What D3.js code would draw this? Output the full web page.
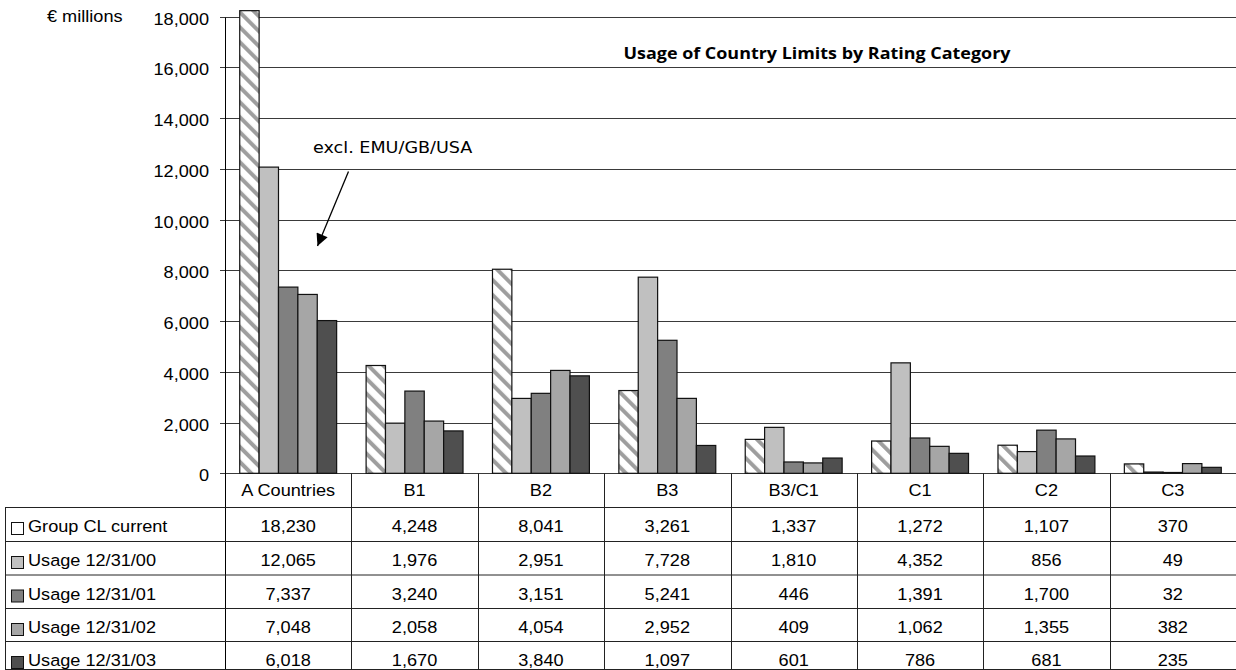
<!DOCTYPE html>
<html>
<head>
<meta charset="utf-8">
<script src="https://cdn.jsdelivr.net/npm/d3@7/dist/d3.min.js"></script>
<style>
  html, body { margin: 0; padding: 0; background: #fff; }
  svg { display: block; }
</style>
</head>
<body>
<svg id="chart" width="1236" height="670"></svg>
<script>
// Rating categories and the series shown per category (EUR millions)
const categories = ["A Countries", "B1", "B2", "B3", "B3/C1", "C1", "C2", "C3"];
const seriesNames = ["Group CL current", "Usage 12/31/00", "Usage 12/31/01", "Usage 12/31/02", "Usage 12/31/03"];
const groupCL  = [18230, 4248, 8041, 3261, 1337, 1272, 1107, 370];
const usage00  = [12065, 1976, 2951, 7728, 1810, 4352, 856, 49];
const usage01  = [7337, 3240, 3151, 5241, 446, 1391, 1700, 32];
const usage02  = [7048, 2058, 4054, 2952, 409, 1062, 1355, 382];
const usage03  = [6018, 1670, 3840, 1097, 601, 786, 681, 235];
const yTicks   = [0, 2000, 4000, 6000, 8000, 10000, 12000, 14000, 16000, 18000];

const seriesValues = [groupCL, usage00, usage01, usage02, usage03];
const seriesFills = ["url(#hatch)", "#c0c0c0", "#808080", "#a6a6a6", "#4f4f4f"];
const legendFills = ["#fff", "#c0c0c0", "#808080", "#a6a6a6", "#4f4f4f"];

const svg = d3.select("#chart");
const fmt = d3.format(",");
const FONT = "'Liberation Sans', Arial, sans-serif";

// layout
const plotLeft = 225, plotRight = 1236, plotTop = 16.5, plotBottom = 473.3;
const tableLeft = 5;
const rowTops = [507, 541, 574.5, 608, 641];
const tableBottom = 669;

const x = d3.scaleBand().domain(categories).range([plotLeft, plotRight]).padding(0);
const xs = d3.scaleBand().domain(seriesNames).range([0, x.bandwidth()]).paddingInner(0).paddingOuter(0.76);
const y = d3.scaleLinear().domain([0, 18000]).range([plotBottom, plotTop]);

// diagonal hatch used for the current group country limit
const defs = svg.append("defs");
const pat = defs.append("pattern")
  .attr("id", "hatch")
  .attr("patternUnits", "userSpaceOnUse")
  .attr("width", 10.6).attr("height", 10.6)
  .attr("patternTransform", "rotate(-45)");
pat.append("rect").attr("width", 10.6).attr("height", 10.6).attr("fill", "#fff");
pat.append("rect").attr("x", 0).attr("width", 4).attr("height", 10.6).attr("fill", "#9e9e9e");

// slightly widened text, as in the printed report
function label(g, tx, ty, text, opts) {
  const o = Object.assign({anchor: "start", size: 16.5, family: FONT, weight: "normal", sx: 1.1}, opts || {});
  return g.append("text")
    .attr("transform", `translate(${tx},${ty}) scale(${o.sx},1)`)
    .attr("text-anchor", o.anchor)
    .attr("font-family", o.family)
    .attr("font-size", o.size)
    .attr("font-weight", o.weight)
    .attr("fill", "#000")
    .text(text);
}

// gridlines
const grid = svg.append("g");
grid.selectAll("line").data(yTicks).join("line")
  .attr("x1", plotLeft - 5).attr("x2", plotRight)
  .attr("y1", d => Math.round(y(d)) + 0.5).attr("y2", d => Math.round(y(d)) + 0.5)
  .attr("stroke", "#3a3a3a").attr("stroke-width", 1);

// y axis line
svg.append("line")
  .attr("x1", plotLeft + 0.5).attr("x2", plotLeft + 0.5)
  .attr("y1", Math.round(y(18000)) + 0.5).attr("y2", tableBottom)
  .attr("stroke", "#000");

// y tick labels
const yl = svg.append("g");
yTicks.forEach(t => label(yl, 209, y(t) + 8, fmt(t), {anchor: "end"}));
label(svg, 47, 22, "€ millions");

// bars
const bars = svg.append("g");
seriesNames.forEach((s, si) => {
  bars.append("g").selectAll("rect").data(categories).join("rect")
    .attr("x", c => x(c) + xs(s))
    .attr("width", xs.bandwidth())
    .attr("y", (c, i) => y(seriesValues[si][i]))
    .attr("height", (c, i) => y(0) - y(seriesValues[si][i]))
    .attr("fill", seriesFills[si])
    .attr("stroke", "#111")
    .attr("stroke-width", 1.2);
});

// title and annotation
label(svg, 817, 59, "Usage of Country Limits by Rating Category",
  {anchor: "middle", family: "'Open Sans', sans-serif", weight: 700, size: 16.3});

label(svg, 313, 153, "excl. EMU/GB/USA", {family: "'DejaVu Sans', sans-serif", size: 16});

defs.append("marker")
  .attr("id", "arrow")
  .attr("viewBox", "0 0 10 10")
  .attr("refX", 10).attr("refY", 5)
  .attr("markerWidth", 14).attr("markerHeight", 12)
  .attr("markerUnits", "userSpaceOnUse")
  .attr("orient", "auto")
  .append("path").attr("d", "M0,0 L10,5 L0,10 Z").attr("fill", "#000");

svg.append("line")
  .attr("x1", 348.5).attr("y1", 171.5)
  .attr("x2", 317.5).attr("y2", 246)
  .attr("stroke", "#000").attr("stroke-width", 1.3)
  .attr("marker-end", "url(#arrow)");

// data table under the plot
const tbl = svg.append("g");
const lineCol = "#222";
// horizontal rules
rowTops.concat([tableBottom]).forEach(ry => {
  tbl.append("line")
    .attr("x1", tableLeft).attr("x2", plotRight)
    .attr("y1", ry + 0.5).attr("y2", ry + 0.5)
    .attr("stroke", lineCol);
});
// vertical rules
tbl.append("line")
  .attr("x1", tableLeft + 0.5).attr("x2", tableLeft + 0.5)
  .attr("y1", rowTops[0]).attr("y2", tableBottom)
  .attr("stroke", lineCol);
categories.slice(1).forEach(c => {
  tbl.append("line")
    .attr("x1", Math.round(x(c)) + 0.5).attr("x2", Math.round(x(c)) + 0.5)
    .attr("y1", plotBottom).attr("y2", tableBottom)
    .attr("stroke", lineCol);
});

// category header
categories.forEach(c => label(tbl, x(c) + x.bandwidth() / 2, plotBottom + 23, c, {anchor: "middle"}));

// series rows
seriesNames.forEach((s, si) => {
  const base = rowTops[si] + 25;
  tbl.append("rect")
    .attr("x", 11.5).attr("y", base - 9.5)
    .attr("width", 12).attr("height", 12)
    .attr("fill", legendFills[si]).attr("stroke", "#111");
  label(tbl, 28, base, s);
  categories.forEach((c, ci) => {
    label(tbl, x(c) + x.bandwidth() / 2, base, fmt(seriesValues[si][ci]), {anchor: "middle"});
  });
});
</script>
</body>
</html>
